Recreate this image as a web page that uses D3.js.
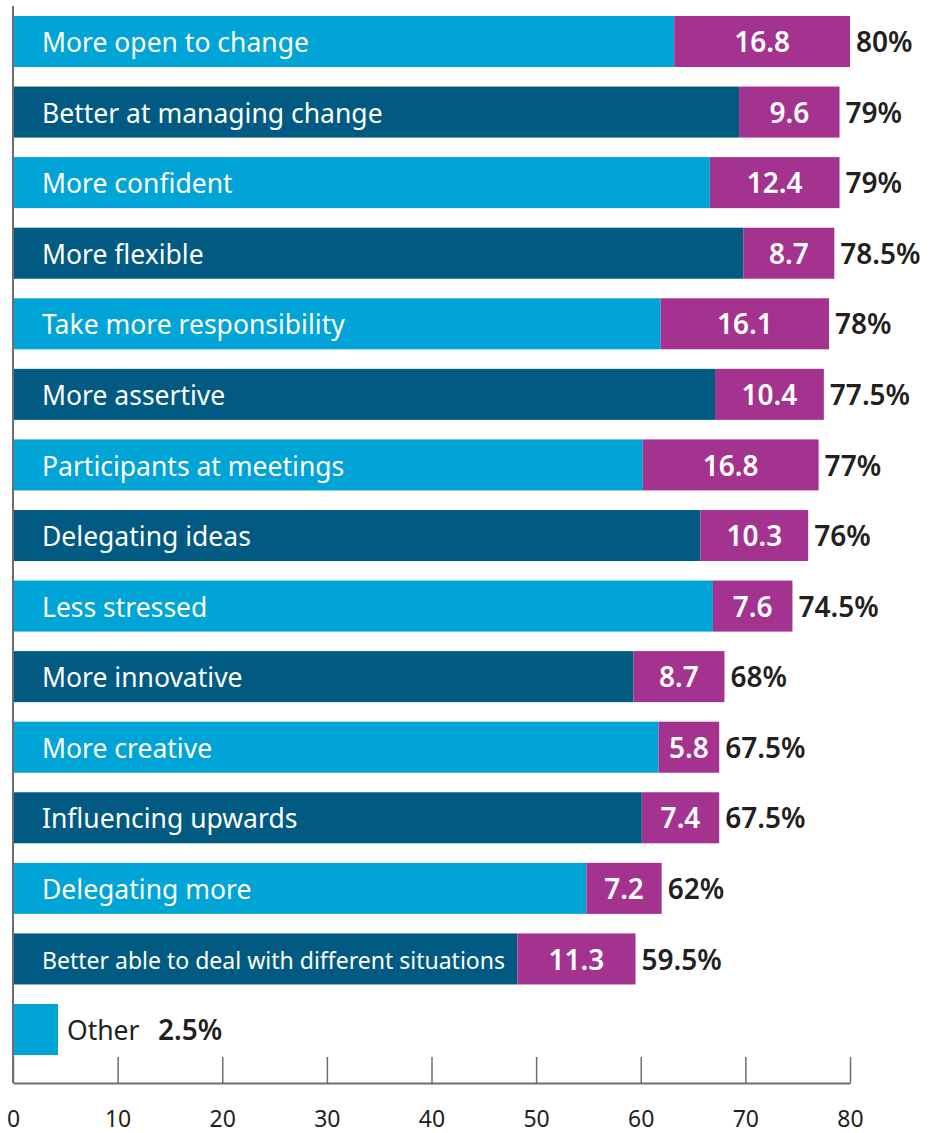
<!DOCTYPE html>
<html>
<head>
    <title>Outcomes</title>
    <script src="https://cdn.jsdelivr.net/npm/d3@7"></script>
    <style>
        body { margin: 0; background: #fff; }
        text { font-family: 'Noto Sans', 'Open Sans', sans-serif; }
    </style>
</head>
<body>
    <svg width="931" height="1133" id="mainsvg"></svg>
    <script>
        // data
        const categories = ['More open to change', 'Better at managing change', 'More confident', 'More flexible',
            'Take more responsibility', 'More assertive', 'Participants at meetings', 'Delegating ideas',
            'Less stressed', 'More innovative', 'More creative', 'Influencing upwards', 'Delegating more',
            'Better able to deal with different situations', 'Other'];
        const totals = [80, 79, 79, 78.5, 78, 77.5, 77, 76, 74.5, 68, 67.5, 67.5, 62, 59.5, 4.3];
        const extra = [16.8, 9.6, 12.4, 8.7, 16.1, 10.4, 16.8, 10.3, 7.6, 8.7, 5.8, 7.4, 7.2, 11.3, 0];
        const totalLabels = ['80%', '79%', '79%', '78.5%', '78%', '77.5%', '77%', '76%', '74.5%', '68%',
            '67.5%', '67.5%', '62%', '59.5%', '2.5%'];
        const xTicks = [0, 10, 20, 30, 40, 50, 60, 70, 80];

        const svg = d3.select('#mainsvg');
        const lightBlue = '#00a4d6';
        const darkBlue = '#005a82';
        const magenta = '#a4328f';

        const xScale = d3.scaleLinear().domain([0, 80]).range([13, 850]);
        const yScale = d3.scaleBand()
            .domain(categories)
            .range([6.2, 1064.8])
            .paddingInner(0.277)
            .paddingOuter(0.1385);

        const rows = categories.map((c, i) => ({
            name: c, total: totals[i], extra: extra[i], label: totalLabels[i], i: i
        }));

        const g = svg.append('g');

        // base (blue) part
        g.selectAll('.base').data(rows)
            .join('rect')
            .attr('class', 'base')
            .attr('x', xScale(0))
            .attr('y', d => yScale(d.name))
            .attr('width', d => xScale(d.total - d.extra) - xScale(0))
            .attr('height', yScale.bandwidth())
            .attr('fill', d => d.i % 2 === 0 ? lightBlue : darkBlue);

        // magenta part
        const withExtra = rows.filter(d => d.extra > 0);
        g.selectAll('.extra').data(withExtra)
            .join('rect')
            .attr('class', 'extra')
            .attr('x', d => xScale(d.total - d.extra))
            .attr('y', d => yScale(d.name))
            .attr('width', d => xScale(d.total) - xScale(d.total - d.extra))
            .attr('height', yScale.bandwidth())
            .attr('fill', magenta);

        g.selectAll('.extra-label').data(withExtra)
            .join('text')
            .attr('class', 'extra-label')
            .attr('x', d => (xScale(d.total) + xScale(d.total - d.extra)) / 2)
            .attr('y', d => yScale(d.name) + yScale.bandwidth() / 2)
            .attr('dy', '0.38em')
            .attr('text-anchor', 'middle')
            .attr('fill', '#fff')
            .attr('font-size', 28)
            .attr('font-weight', 600)
            .text(d => d.extra.toFixed(1));

        // category names inside the bars
        const inside = rows.filter(d => d.name !== 'Other');
        g.selectAll('.cat').data(inside)
            .join('text')
            .attr('class', 'cat')
            .attr('x', 42)
            .attr('y', d => yScale(d.name) + yScale.bandwidth() / 2)
            .attr('dy', '0.4em')
            .attr('fill', '#fff')
            .attr('font-size', d => d.name.length > 30 ? 24 : 26.5)
            .attr('textLength', d => d.name.length > 30 ? 463 : null)
            .attr('lengthAdjust', 'spacingAndGlyphs')
            .text(d => d.name);

        // total labels right of bars
        g.selectAll('.tot').data(inside)
            .join('text')
            .attr('class', 'tot')
            .attr('x', d => xScale(d.total) + 6)
            .attr('y', d => yScale(d.name) + yScale.bandwidth() / 2)
            .attr('dy', '0.38em')
            .attr('fill', '#231f20')
            .attr('font-size', 28)
            .attr('font-weight', 600)
            .text(d => d.label);

        // "Other" row
        const other = rows[rows.length - 1];
        const oy = yScale(other.name) + yScale.bandwidth() / 2;
        g.append('text')
            .attr('x', xScale(other.total) + 9)
            .attr('y', oy)
            .attr('dy', '0.4em')
            .attr('fill', '#231f20')
            .attr('font-size', 26.5)
            .text('Other');
        g.append('text')
            .attr('x', 158)
            .attr('y', oy)
            .attr('dy', '0.38em')
            .attr('fill', '#231f20')
            .attr('font-size', 28)
            .attr('font-weight', 600)
            .text(other.label);

        // axes
        const xAxis = d3.axisBottom(xScale)
            .tickValues(xTicks)
            .tickSizeInner(-26)
            .tickSizeOuter(0)
            .tickPadding(28);
        const xAxis_group = svg.append('g')
            .attr('transform', 'translate(0, 1083)')
            .call(xAxis);
        xAxis_group.selectAll('.domain').attr('stroke', '#6d6e71').attr('stroke-width', 2);
        xAxis_group.selectAll('.tick line').attr('stroke', '#6d6e71').attr('stroke-width', 1.5);
        xAxis_group.selectAll('.tick text')
            .attr('fill', '#231f20')
            .attr('font-size', 23)
            .attr('font-family', "'Noto Sans', sans-serif");

        svg.append('line')
            .attr('x1', xScale(0)).attr('x2', xScale(0))
            .attr('y1', 6).attr('y2', 1083)
            .attr('stroke', '#6d6e71')
            .attr('stroke-width', 2);
    </script>
</body>
</html>
